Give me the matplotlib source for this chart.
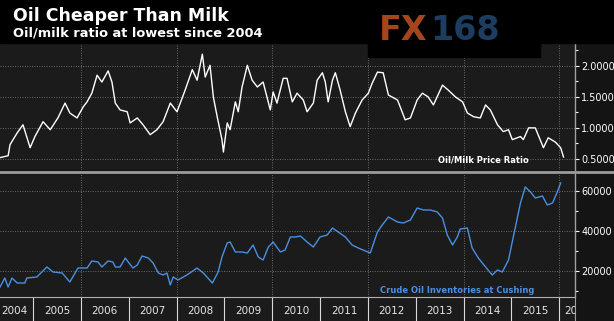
import matplotlib.pyplot as plt
from matplotlib.lines import Line2D
from matplotlib.patches import Rectangle
from matplotlib.ticker import MultipleLocator, FuncFormatter

# oil/milk price ratio (decimal year, ratio)
ratio_years = [2004.31, 2004.48, 2004.52, 2004.67, 2004.79, 2004.94, 2005.04, 2005.21, 2005.36, 2005.52,
               2005.67, 2005.77, 2005.92, 2006.05, 2006.13, 2006.23, 2006.34, 2006.44, 2006.57, 2006.65,
               2006.72, 2006.82, 2006.97, 2007.03, 2007.18, 2007.30, 2007.45, 2007.59, 2007.72, 2007.87,
               2008.01, 2008.18, 2008.33, 2008.43, 2008.54, 2008.60, 2008.70, 2008.77, 2008.85, 2008.95,
               2008.98, 2009.06, 2009.12, 2009.23, 2009.29, 2009.37, 2009.48, 2009.58, 2009.69, 2009.81,
               2009.96, 2010.02, 2010.10, 2010.23, 2010.31, 2010.42, 2010.52, 2010.65, 2010.73, 2010.86,
               2010.94, 2011.05, 2011.11, 2011.17, 2011.26, 2011.32, 2011.42, 2011.53, 2011.63, 2011.74,
               2011.88, 2012.01, 2012.09, 2012.20, 2012.32, 2012.43, 2012.62, 2012.78, 2012.89, 2013.03,
               2013.14, 2013.26, 2013.37, 2013.56, 2013.68, 2013.83, 2013.98, 2014.08, 2014.21, 2014.35,
               2014.46, 2014.56, 2014.71, 2014.83, 2014.94, 2015.02, 2015.19, 2015.25, 2015.36, 2015.50,
               2015.67, 2015.77, 2015.92, 2016.03, 2016.09]
ratio_vals = [0.52, 0.55, 0.73, 0.92, 1.05, 0.68, 0.86, 1.10, 0.97, 1.16,
              1.40, 1.24, 1.16, 1.34, 1.42, 1.56, 1.85, 1.74, 1.92, 1.74,
              1.40, 1.29, 1.26, 1.08, 1.16, 1.05, 0.89, 0.97, 1.10, 1.40,
              1.26, 1.61, 1.94, 1.77, 2.19, 1.82, 2.01, 1.50, 1.18, 0.81,
              0.61, 1.08, 0.97, 1.42, 1.26, 1.66, 2.01, 1.77, 1.66, 1.74,
              1.29, 1.58, 1.40, 1.80, 1.80, 1.42, 1.56, 1.45, 1.26, 1.40,
              1.77, 1.89, 1.74, 1.42, 1.77, 1.89, 1.61, 1.26, 1.02, 1.24,
              1.45, 1.56, 1.72, 1.90, 1.89, 1.53, 1.45, 1.13, 1.16, 1.45,
              1.56, 1.50, 1.37, 1.69, 1.61, 1.50, 1.42, 1.24, 1.18, 1.16,
              1.37, 1.29, 1.05, 0.94, 0.97, 0.81, 0.86, 0.81, 1.00, 1.00,
              0.68, 0.84, 0.77, 0.68, 0.53]

# crude oil inventories at Cushing (decimal year, thousand barrels)
inv_years = [2004.31, 2004.41, 2004.48, 2004.56, 2004.67, 2004.83, 2004.87, 2005.08, 2005.29, 2005.42,
             2005.61, 2005.77, 2005.94, 2006.13, 2006.23, 2006.36, 2006.44, 2006.57, 2006.67, 2006.72,
             2006.82, 2006.93, 2006.99, 2007.09, 2007.18, 2007.28, 2007.41, 2007.51, 2007.62, 2007.72,
             2007.80, 2007.87, 2007.93, 2008.03, 2008.18, 2008.28, 2008.43, 2008.56, 2008.75, 2008.87,
             2008.95, 2009.06, 2009.12, 2009.23, 2009.37, 2009.48, 2009.60, 2009.71, 2009.81, 2009.92,
             2010.02, 2010.17, 2010.27, 2010.38, 2010.48, 2010.59, 2010.73, 2010.86, 2011.00, 2011.15,
             2011.26, 2011.38, 2011.53, 2011.67, 2011.80, 2011.90, 2012.05, 2012.20, 2012.30, 2012.43,
             2012.62, 2012.74, 2012.89, 2013.03, 2013.16, 2013.31, 2013.45, 2013.56, 2013.66, 2013.77,
             2013.87, 2013.93, 2014.08, 2014.18, 2014.31, 2014.46, 2014.60, 2014.71, 2014.81, 2014.94,
             2015.04, 2015.19, 2015.29, 2015.40, 2015.50, 2015.65, 2015.75, 2015.86, 2015.96, 2016.03]
inv_vals = [12000, 16500, 12000, 16500, 14000, 14000, 16500, 17000, 22000, 19500,
            19000, 14500, 21500, 21500, 25000, 24500, 22000, 25000, 24500, 22000,
            22000, 26500, 24500, 21500, 23000, 27500, 26500, 24000, 19000, 18000,
            19000, 13000, 17000, 15500, 17500, 19000, 21500, 19000, 14000, 19500,
            27000, 34000, 34500, 29500, 29500, 29000, 33000, 27000, 25500, 32000,
            34500, 29500, 30500, 37000, 37000, 37500, 34500, 32000, 37000, 38000,
            41500, 39500, 37000, 33000, 31500, 30500, 29000, 39500, 43000, 47000,
            44500, 44000, 45500, 51500, 50500, 50500, 49500, 46500, 38000, 33000,
            37000, 41000, 41500, 31500, 26500, 22000, 18000, 20500, 19500, 25500,
            37000, 54000, 62000, 59500, 56500, 57500, 53000, 54000, 59500, 64000]

year_labels = list(range(2004, 2017))

bg = "#1b1b1b"
grid_col = "#6a6a6a"
line_blue = "#4a8fe0"
x_min, x_max = 2004.31, 2016.33

W, H = 614, 321
fig = plt.figure(figsize=(W / 100, H / 100), dpi=100, facecolor="#141414")

def box(x0, y0, x1, y1):
    # pixel box (top-left origin) -> figure fraction rect
    return [x0 / W, 1 - y1 / H, (x1 - x0) / W, (y1 - y0) / H]

ax1 = fig.add_axes(box(0, 43, 575, 170), facecolor=bg)
ax2 = fig.add_axes(box(0, 174, 575, 297), facecolor=bg)
axx = fig.add_axes(box(0, 297, 575, 321), facecolor=bg)

ax1.plot(ratio_years, ratio_vals, color="white", lw=1.0)
ax2.plot(inv_years, inv_vals, color=line_blue, lw=1.0)

ax1.set_ylim(0.32, 2.37)
ax1.yaxis.set_major_locator(MultipleLocator(0.5))
ax1.yaxis.set_minor_locator(MultipleLocator(0.25))
ax1.yaxis.set_major_formatter(FuncFormatter(lambda v, p: "%.4f" % v))

ax2.set_ylim(7000, 68500)
ax2.yaxis.set_major_locator(MultipleLocator(20000))
ax2.yaxis.set_minor_locator(MultipleLocator(10000))
ax2.yaxis.set_major_formatter(FuncFormatter(lambda v, p: "%d" % v))

for ax in (ax1, ax2):
    ax.set_xlim(x_min, x_max)
    ax.set_xticks(range(2006, 2017, 2))
    ax.tick_params(axis="x", length=0, labelbottom=False)
    ax.yaxis.tick_right()
    ax.tick_params(axis="y", which="major", colors="white", length=3, width=0.8,
                   labelsize=7.0, pad=1.5)
    ax.tick_params(axis="y", which="minor", colors="white", length=2, width=0.8)
    ax.grid(True, which="major", color=grid_col, ls=(0, (1, 1.5)), lw=0.7)
    for s in ("top", "bottom", "left"):
        ax.spines[s].set_visible(False)
    ax.spines["right"].set_color("#a0a0a0")
    ax.spines["right"].set_linewidth(1.0)

# legend-like labels
ax1.text(0.84, 0.04, "Oil/Milk Price Ratio", transform=ax1.transAxes, color="white",
         fontsize=6, fontweight="bold", ha="center", va="bottom")
ax2.text(0.795, 0.02, "Crude Oil Inventories at Cushing", transform=ax2.transAxes,
         color=line_blue, fontsize=6, fontweight="bold", ha="center", va="bottom")

# x label strip
axx.set_xlim(x_min, x_max)
axx.set_ylim(0, 1)
axx.set_xticks([])
axx.set_yticks([])
for s in ("bottom", "left"):
    axx.spines[s].set_visible(False)
axx.spines["top"].set_color("#b0b0b0")
axx.spines["right"].set_color("#a0a0a0")
for yr in year_labels:
    kw = dict(color="#e6e6e6", fontsize=7.5, va="center")
    if yr > year_labels[0]:
        axx.axvline(yr, color="#d8d8d8", lw=0.8)
    if yr == year_labels[0]:
        # first year only partly in view: keep label inside
        axx.text(x_min + 0.02, 0.42, str(yr), ha="left", **kw)
    elif yr + 0.5 < x_max:
        axx.text(yr + 0.5, 0.42, str(yr), ha="center", **kw)
    else:
        axx.text(yr + 0.1, 0.42, str(yr), ha="left", clip_on=True, **kw)

# panel separator
fig.add_artist(Line2D([0, 1], [1 - 171.5 / H] * 2, color="#9c9c9c", lw=2))

# title band
fig.add_artist(Rectangle((0, 1 - 43 / H), 1, 43 / H, color="black", zorder=5))
fig.text(13 / W, 1 - 21 / H, "Oil Cheaper Than Milk", color="white", fontsize=12.5,
         fontweight="bold", va="baseline", zorder=6)
fig.text(13 / W, 1 - 37 / H, "Oil/milk ratio at lowest since 2004", color="white",
         fontsize=9.4, fontweight="bold", va="baseline", zorder=6)

# watermark logo
fig.add_artist(Rectangle((368 / W, 1 - 57 / H), 172 / W, 57 / H, color="black", zorder=5))
fig.text(428 / W, 1 - 40 / H, "FX", color="#a3461d", fontsize=24, fontweight="bold",
         ha="right", va="baseline", zorder=6)
fig.text(430 / W, 1 - 40 / H, "168", color="#1d3d60", fontsize=24, fontweight="bold",
         ha="left", va="baseline", zorder=6)

fig.savefig("out.png", dpi=100, facecolor=fig.get_facecolor())
